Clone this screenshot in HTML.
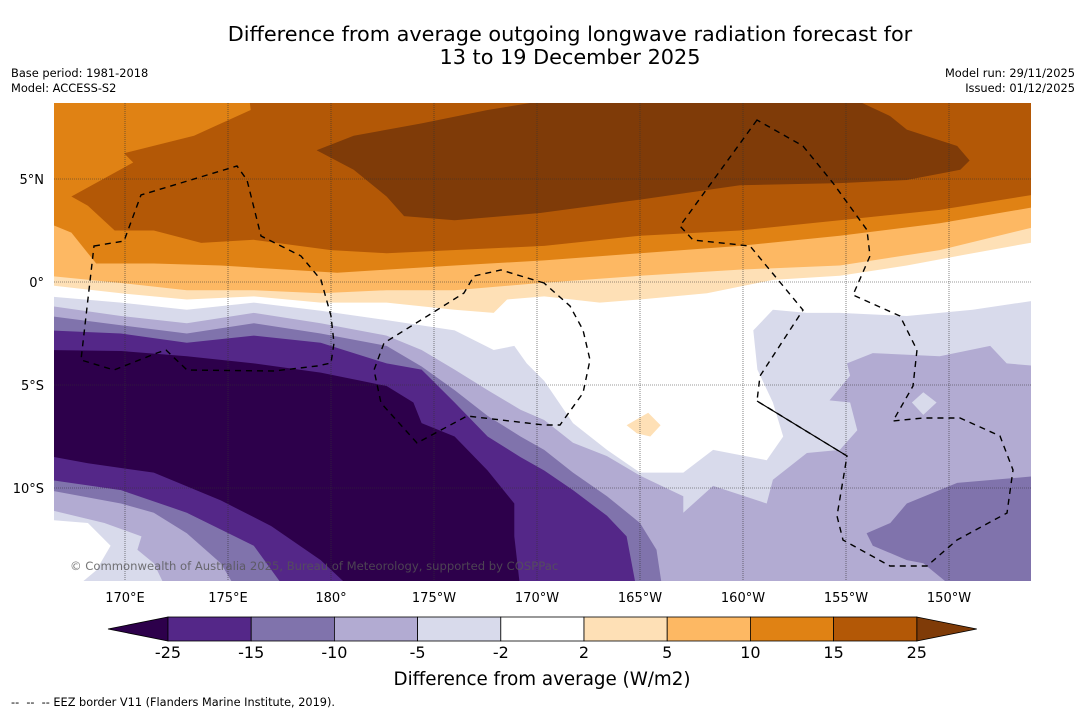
<!DOCTYPE html>
<html><head><meta charset="utf-8">
<style>
html,body{margin:0;padding:0;background:#fff;}
body{width:1085px;height:713px;overflow:hidden;font-family:"Liberation Sans","DejaVu Sans",sans-serif;}
svg{position:absolute;left:0;top:0;}
text{font-family:"DejaVu Sans","Liberation Sans",sans-serif;}
</style></head>
<body>
<svg id="chart" width="1085" height="713" viewBox="0 0 1085 713" xmlns="http://www.w3.org/2000/svg">
  <text x="570" y="41" font-size="20.8" text-anchor="middle">Difference from average outgoing longwave radiation forecast for</text>
  <text x="570" y="64" font-size="20.8" text-anchor="middle">13 to 19 December 2025</text>
  <text x="11" y="77" font-size="11.4">Base period: 1981-2018</text>
  <text x="11" y="92" font-size="11.4">Model: ACCESS-S2</text>
  <text x="1075" y="77" font-size="11.4" text-anchor="end">Model run: 29/11/2025</text>
  <text x="1075" y="92" font-size="11.4" text-anchor="end">Issued: 01/12/2025</text>
  <defs><clipPath id="mapclip"><rect x="54" y="103" width="977" height="478"/></clipPath></defs>
  <g id="map" clip-path="url(#mapclip)"></g>
  <g id="grid" clip-path="url(#mapclip)"></g>
  <g id="eez" clip-path="url(#mapclip)" fill="none" stroke="#000" stroke-width="1.4" stroke-dasharray="6,5">
    <path d="M94,246 L124,241 L141,195 L237,166 L247,180 L261,236 L271,241 L301,256 L321,280 L331,316 L334,343 L331,363 L317,366 L274,371 L187,370 L166,350 L157,353 L114,370 L81,360 Z"/>
    <path d="M544,283 L501,270 L474,276 L464,293 L437,310 L384,343 L374,370 L381,403 L417,443 L467,416 L544,425 L560,425 L583,393 L590,360 L583,330 L570,306 Z"/>
    <path d="M757,120 L680,226 L693,240 L750,246 L803,310 L760,376 L757,401 L847,456 L837,516 L843,540 L890,566 L927,566 L957,540 L1007,513 L1013,470 L1000,436 L960,418 L923,418 L893,421 L913,386 L917,350 L900,316 L853,295 L870,256 L867,230 L833,183 L803,146 Z"/>
    <path stroke-dasharray="none" stroke-width="1.2" d="M757,401 L847,456"/>
  </g>
  <text x="70" y="570" font-size="11.6" fill="#555" opacity="0.8">© Commonwealth of Australia 2025, Bureau of Meteorology, supported by COSPPac</text>
  <g id="axes"></g>
  <g id="cbar"></g>
  <text x="542" y="685" font-size="18.3" text-anchor="middle">Difference from average (W/m2)</text>
  <text x="11" y="706" font-size="11.3" xml:space="preserve">--  --  -- EEZ border V11 (Flanders Marine Institute, 2019).</text>
</svg>
<script>
// ---- data (longitude in degrees east, 0-360; latitude in degrees) ----
const lonTicks = [170, 175, 180, 185, 190, 195, 200, 205, 210];
const lonTickLabels = ["170°E","175°E","180°","175°W","170°W","165°W","160°W","155°W","150°W"];
const latTicks = [5, 0, -5, -10];
const latTickLabels = ["5°N","0°","5°S","10°S"];
const cbarLevels = [-25, -15, -10, -5, -2, 2, 5, 10, 15, 25];
const cbarColors = ["#542788","#8073ac","#b2abd2","#d8daeb","#ffffff","#fee0b6","#fdb863","#e08214","#b35806"];
const underColor = "#2d004b";
const overColor = "#7f3b08";

const brownRegion = [[176.05,8.8],[176.1,8.35],[173.35,7.1],[169.95,6.25],[170.4,5.8],[167.4,4.15],[168.2,3.7],[169.5,2.5],[171.4,2.5],[173.7,1.9],[176.25,2.05],[180,1.55],[182.7,1.4],[190.35,1.75],[195,2.25],[199.85,2.5],[204.7,3.0],[209.55,3.5],[214.5,4.3],[214.5,8.8]];
const darkBrownRegion = [[179.3,6.4],[181.1,7.1],[184.4,7.7],[187.6,8.35],[190.35,8.8],[205.55,8.8],[207.15,8.05],[207.95,7.4],[210.4,6.6],[211.0,5.9],[210.55,5.45],[207.95,4.95],[204.7,4.8],[199.85,4.7],[195,4.0],[190.15,3.35],[186,3.0],[183.55,3.2],[182.7,4.15],[181.1,5.45]];
const lightOrangeTop = [[166.3,2.85],[167.4,2.4],[168.2,1.4],[168.6,0.9],[171.4,0.9],[174.65,0.8],[177.85,0.6],[180.3,0.45],[182.7,0.6],[186,0.8],[190.35,1.05],[195,1.4],[199.85,1.75],[204.7,2.25],[209.55,2.85],[214.5,3.7]];
const paleTop = [[166.3,0.3],[169.8,-0.05],[173.0,-0.4],[176.25,-0.4],[179.5,-0.55],[182.7,-0.4],[186,-0.4],[190.15,-0.05],[195,0.3],[199.85,0.6],[204.7,0.8],[209.55,1.55],[214.5,2.75]];
const whiteTop = [[166.3,-0.15],[169.8,-0.55],[173,-0.85],[176.25,-0.7],[179.5,-1.0],[182.7,-1.0],[186,-1.35],[187.9,-1.5],[188.55,-0.85],[190.35,-0.7],[193.05,-1.0],[195,-0.85],[198.25,-0.55],[201.45,0.1],[204.7,0.3],[207.95,0.8],[211.15,1.4],[214.5,2.0]];
const lav1Top = [[166.3,-0.7],[169.8,-1.0],[173,-1.35],[176.25,-1.0],[179.5,-1.4],[182.7,-1.85],[186,-2.35],[187.9,-3.3],[188.9,-3.1],[189.5,-3.95],[190.35,-4.8],[191.75,-6.85],[193.4,-8.15],[195,-9.25],[197.1,-9.25],[198.55,-8.15],[201.15,-8.65],[201.95,-7.5],[201.45,-5.85],[200.7,-4.25],[200.5,-2.35],[201.45,-1.35],[203.1,-1.5],[204.7,-1.5],[207.95,-1.65],[211.15,-1.35],[214.5,-0.85]];
const lav2Top = [[166.3,-1.15],[169.8,-1.65],[173,-2.0],[176.25,-1.5],[179.5,-2.0],[182.7,-2.6],[184.4,-3.3],[186,-4.25],[187.6,-5.25],[189.2,-6.2],[190.35,-6.7],[191.75,-7.8],[193.4,-8.45],[195,-9.4],[197.1,-10.4],[197.1,-11.2],[198.55,-9.9],[201.15,-10.75],[201.45,-9.6],[203.1,-8.3],[204.7,-8.15],[205.55,-7.2],[205.2,-5.85],[204.2,-5.75],[205.2,-4.55],[205.05,-3.95],[206.3,-3.45],[209.55,-3.6],[212,-3.1],[212.8,-3.95],[214.5,-4.1]];
const purple3Top = [[166.3,-1.65],[169.8,-2.1],[173,-2.5],[176.25,-2.0],[179.5,-2.5],[182.7,-3.1],[184.4,-4.1],[186,-5.25],[187.6,-6.5],[189.2,-7.5],[190.35,-8.15],[191.75,-9.25],[193.4,-10.4],[195,-11.7],[195.8,-13.0],[196.1,-15]];
const purple4Top = [[166.3,-2.35],[169.8,-2.5],[173,-2.95],[176.25,-2.6],[179.5,-2.95],[182.7,-3.95],[184.4,-4.25],[186,-5.85],[187.6,-7.5],[189.2,-8.5],[190.35,-9.15],[191.75,-10.1],[193.4,-11.35],[194.35,-12.35],[194.85,-15]];
const darkestRegion = [[166.3,-3.3],[169.8,-3.35],[173,-3.6],[176.25,-3.95],[179.5,-4.4],[182.7,-5.05],[184,-5.85],[184.4,-6.85],[186,-7.5],[187.6,-9.15],[188.9,-10.75],[188.9,-12.35],[189.2,-15],[181.1,-15],[179.5,-13.5],[177.1,-11.85],[174.65,-10.6],[171.4,-9.25],[168.2,-8.8],[166.3,-8.45]];
const swPurple3Top = [[166.3,-9.6],[169.8,-10.1],[173,-11.2],[176.25,-12.8],[177.85,-15]];
const swLav2Top = [[166.3,-10.1],[169.8,-10.75],[171.4,-11.2],[173,-12.2],[174.65,-13.65],[175.45,-15]];
const swLav1Top = [[166.3,-11.05],[169,-11.7],[170.8,-12.35],[170.6,-13.0],[171.4,-13.65],[172.05,-15]];
const swWhiteRegion = [[166.3,-11.55],[168.2,-11.7],[169.3,-12.8],[168.6,-14.0],[167.4,-15],[166.3,-15]];
const ePurple3Region = [[207.15,-11.7],[207.95,-10.75],[210.4,-9.75],[214.5,-9.4],[214.5,-15],[210.4,-15],[208.75,-13.65],[207.95,-13.5],[206.3,-12.8],[206,-12.2]];
const paleDiamond = [[194.35,-6.95],[195.4,-6.35],[196.0,-6.95],[195.5,-7.5],[194.85,-7.35]];
const lavDiamond = [[208.2,-5.85],[208.75,-5.35],[209.4,-5.85],[208.75,-6.45]];

// ---- axis functions ----
const X0 = 125, LON0 = 170, PX = 20.6, Y0 = 282;
function xScale(lon){ return X0 + (lon - LON0) * PX; }
function yScale(lat){ return Y0 - lat * PX; }
const NS = "http://www.w3.org/2000/svg";
const map = document.getElementById('map');
function poly(points, fill, name){
  const p = document.createElementNS(NS,'polygon');
  p.setAttribute('points', points.map(d => xScale(d[0]).toFixed(1)+','+yScale(d[1]).toFixed(1)).join(' '));
  p.setAttribute('fill', fill);
  
  
  map.appendChild(p);
}
function below(line){
  const last = line[line.length-1];
  return line.concat([[Math.max(last[0],166.3), -15.5],[166.3,-15.5]]);
}
const bg = document.createElementNS(NS,'rect');
bg.setAttribute('x', xScale(166)); bg.setAttribute('y', yScale(9));
bg.setAttribute('width', xScale(215)-xScale(166)); bg.setAttribute('height', yScale(-16)-yScale(9));
bg.setAttribute('fill', cbarColors[7]);


map.appendChild(bg);
poly(brownRegion, cbarColors[8], 'band-15-to-25');
poly(darkBrownRegion, overColor, 'band-above-25');
poly(below(lightOrangeTop), cbarColors[6], 'band-5-to-10');
poly(below(paleTop), cbarColors[5], 'band-2-to-5');
poly(below(whiteTop), cbarColors[4], 'band-minus2-to-2');
poly(below(lav1Top), cbarColors[3], 'band-minus5-to-minus2');
poly(below(lav2Top), cbarColors[2], 'band-minus10-to-minus5');
poly(below(purple3Top), cbarColors[1], 'band-minus15-to-minus10');
poly(below(purple4Top), cbarColors[0], 'band-minus25-to-minus15');
poly(darkestRegion, underColor, 'band-below-minus25');
poly(below(swPurple3Top), cbarColors[1], 'sw-band-minus15-to-minus10');
poly(below(swLav2Top), cbarColors[2], 'sw-band-minus10-to-minus5');
poly(below(swLav1Top), cbarColors[3], 'sw-band-minus5-to-minus2');
poly(swWhiteRegion, cbarColors[4], 'sw-band-minus2-to-2');
poly(ePurple3Region, cbarColors[1], 'east-band-minus15-to-minus10');
poly(paleDiamond, cbarColors[5], 'pale-patch');
poly(lavDiamond, cbarColors[3], 'lavender-patch');

const grid = document.getElementById('grid');
const axes = document.getElementById('axes');
lonTicks.forEach((lon,i) => {
  const l = document.createElementNS(NS,'line');
  l.setAttribute('x1', xScale(lon)); l.setAttribute('x2', xScale(lon));
  l.setAttribute('y1', 103); l.setAttribute('y2', 581);
  l.setAttribute('stroke', '#333'); l.setAttribute('stroke-width', '0.6'); l.setAttribute('stroke-dasharray', '1,1');
  
  
  grid.appendChild(l);
  const t = document.createElementNS(NS,'text');
  t.setAttribute('x', xScale(lon)); t.setAttribute('y', 602);
  t.setAttribute('font-size', '13'); t.setAttribute('text-anchor', 'middle');
  t.textContent = lonTickLabels[i];
  
  
  axes.appendChild(t);
});
latTicks.forEach((lat,i) => {
  const l = document.createElementNS(NS,'line');
  l.setAttribute('x1', 54); l.setAttribute('x2', 1031);
  l.setAttribute('y1', yScale(lat)); l.setAttribute('y2', yScale(lat));
  l.setAttribute('stroke', '#333'); l.setAttribute('stroke-width', '0.6'); l.setAttribute('stroke-dasharray', '1,1');
  
  
  grid.appendChild(l);
  const t = document.createElementNS(NS,'text');
  t.setAttribute('x', 44); t.setAttribute('y', yScale(lat)+5);
  t.setAttribute('font-size', '13'); t.setAttribute('text-anchor', 'end');
  t.textContent = latTickLabels[i];
  
  
  axes.appendChild(t);
});

const cbar = document.getElementById('cbar');
const CB_X0 = 168, CB_W = 83.2, CB_Y = 617, CB_H = 24;
function cbX(i){ return CB_X0 + i * CB_W; }
const triL = document.createElementNS(NS,'polygon');
triL.setAttribute('points', `${cbX(0)-60},${CB_Y+CB_H/2} ${cbX(0)},${CB_Y} ${cbX(0)},${CB_Y+CB_H}`);
triL.setAttribute('fill', underColor); triL.setAttribute('stroke', '#000'); triL.setAttribute('stroke-width', '0.8');


cbar.appendChild(triL);
const n = cbarColors.length;
const triR = document.createElementNS(NS,'polygon');
triR.setAttribute('points', `${cbX(n)},${CB_Y} ${cbX(n)+60},${CB_Y+CB_H/2} ${cbX(n)},${CB_Y+CB_H}`);
triR.setAttribute('fill', overColor); triR.setAttribute('stroke', '#000'); triR.setAttribute('stroke-width', '0.8');


cbar.appendChild(triR);
cbarColors.forEach((c,i) => {
  const r = document.createElementNS(NS,'rect');
  r.setAttribute('x', cbX(i)); r.setAttribute('y', CB_Y);
  r.setAttribute('width', CB_W); r.setAttribute('height', CB_H);
  r.setAttribute('fill', c); r.setAttribute('stroke', '#000'); r.setAttribute('stroke-width', '0.8');
  
  
  cbar.appendChild(r);
});
cbarLevels.forEach((v,i) => {
  const t = document.createElementNS(NS,'text');
  t.setAttribute('x', cbX(i)); t.setAttribute('y', 658);
  t.setAttribute('font-size', '16'); t.setAttribute('text-anchor', 'middle');
  t.textContent = String(v);
  
  
  cbar.appendChild(t);
});
</script>
</body></html>
